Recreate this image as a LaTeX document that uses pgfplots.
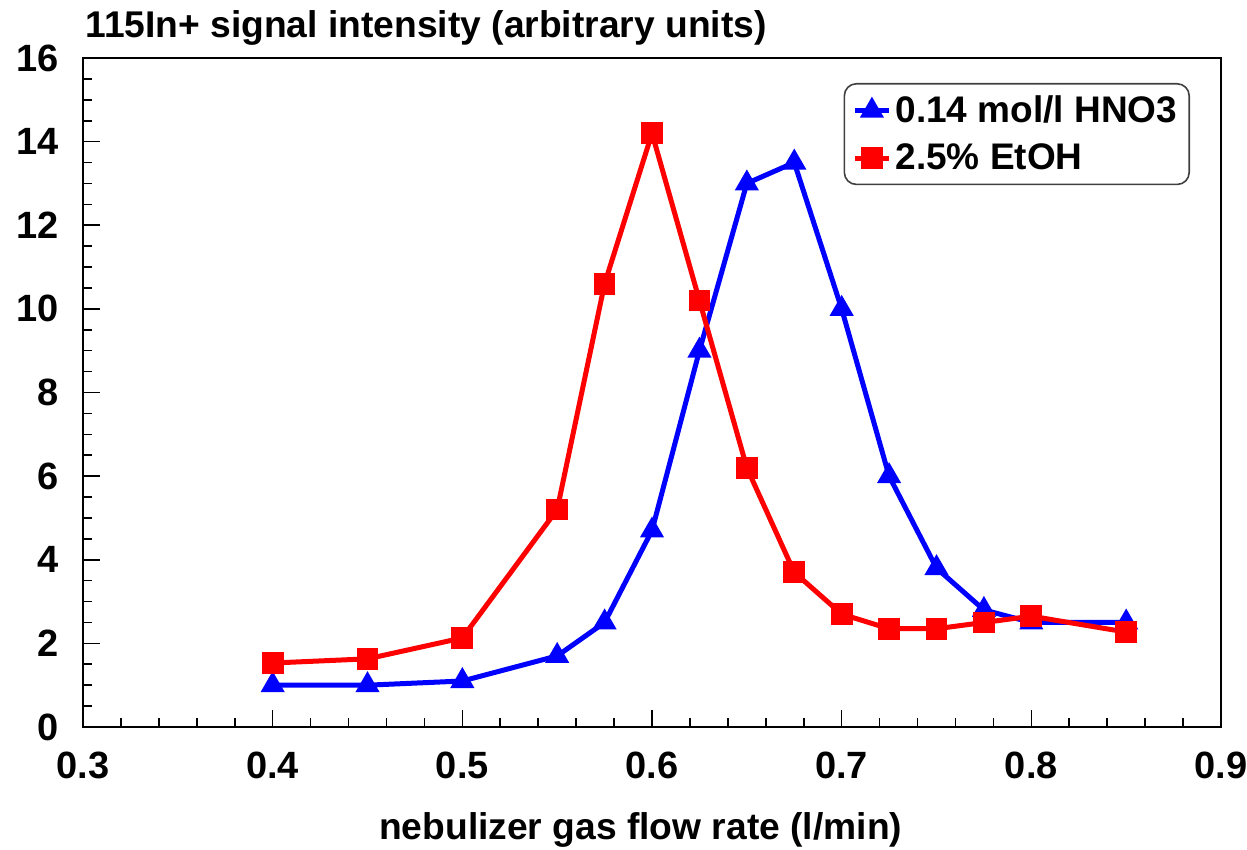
\documentclass[border=0pt]{standalone}
\usepackage{fontspec}
\setmainfont{Liberation Sans}
\usepackage{pgfplots}
\pgfplotsset{compat=1.18}
\definecolor{serblue}{RGB}{0,0,255}
\definecolor{serred}{RGB}{255,0,0}
\begin{document}
\begin{tikzpicture}
\begin{axis}[
  scale only axis,
  width=569pt, height=334.5pt,
  xmin=0.3, xmax=0.9, ymin=0, ymax=16,
  xtick={0.3,0.4,0.5,0.6,0.7,0.8,0.9},
  ytick={0,2,...,16},
  minor x tick num=4, minor y tick num=3,
  tick align=inside,
  xtick pos=bottom, ytick pos=left,
  major tick length=8.5pt, minor tick length=4.5pt,
  axis line style={line width=1pt},
  every tick/.style={black, line width=0.8pt},
  tick label style={font=\fontsize{19}{22}\selectfont\bfseries},
  /pgf/number format/assume math mode=true,
  xticklabel style={/pgf/number format/.cd, fixed, fixed zerofill, precision=1},
  xticklabel shift=9pt,
  yticklabel shift=8.7pt,
  xlabel={nebulizer gas flow rate (l/min)},
  xlabel style={font=\fontsize{18.6}{22}\selectfont\bfseries, at={(axis description cs:0.49,0)}, anchor=base, yshift=-56pt},
  legend style={at={(1,1)}, xshift=-15.5pt, yshift=-12.5pt, anchor=north east,
    rounded corners=6pt, draw=black!75, line width=0.8pt,
    font=\fontsize{18.5}{22}\selectfont\bfseries, row sep=5pt, inner sep=4pt},
  legend cell align=left,
  legend image post style={sharp corners},
]
\addplot[serblue, line width=2.5pt, mark=triangle*, mark size=4.5pt, mark options={solid}] coordinates {
  (0.4,1.0) (0.45,1.0) (0.5,1.1) (0.55,1.7) (0.575,2.5) (0.6,4.7) (0.625,9.0)
  (0.65,13.0) (0.675,13.5) (0.7,10.0) (0.725,6.0) (0.75,3.8) (0.775,2.8)
  (0.8,2.5) (0.85,2.5)};
\addlegendentry{0.14 mol/l HNO3}
\addplot[serred, line width=2.5pt, mark=square*, mark size=4.2pt, mark options={solid}] coordinates {
  (0.4,1.53) (0.45,1.63) (0.5,2.13) (0.55,5.2) (0.575,10.6) (0.6,14.2) (0.625,10.2)
  (0.65,6.2) (0.675,3.7) (0.7,2.7) (0.725,2.35) (0.75,2.35) (0.775,2.5)
  (0.8,2.65) (0.85,2.27)};
\addlegendentry{2.5\% EtOH}
\coordinate (sw) at (rel axis cs:0,0);
\coordinate (nw) at (rel axis cs:0,1);
\coordinate (ne) at (rel axis cs:1,1);
\end{axis}
\node[anchor=base west, font=\fontsize{18.6}{22}\selectfont\bfseries, inner sep=0pt]
  at ([yshift=10pt,xshift=1pt]nw) {115In+ signal intensity (arbitrary units)};
\pgfresetboundingbox
\path ([xshift=-41.5pt,yshift=-61pt]sw) rectangle ([xshift=13pt,yshift=29pt]ne);
\end{tikzpicture}
\end{document}
